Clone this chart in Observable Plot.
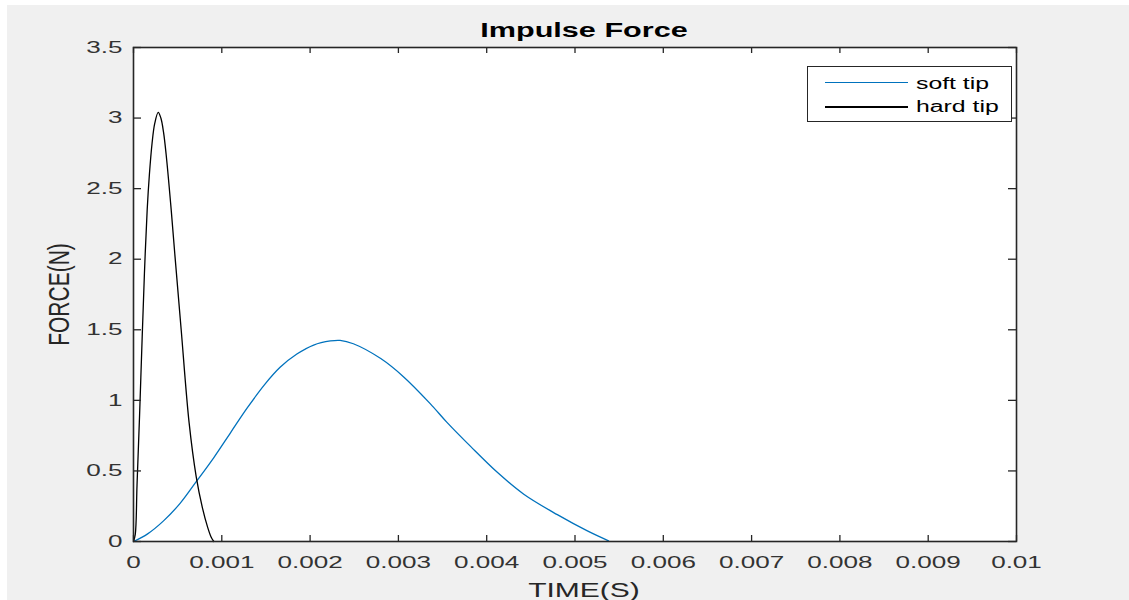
<!DOCTYPE html>
<html>
<head>
<meta charset="utf-8">
<script src="https://cdn.jsdelivr.net/npm/d3@7"></script>
<script src="https://cdn.jsdelivr.net/npm/@observablehq/plot@0.6"></script>
<style>
  html, body { margin: 0; padding: 0; background: #ffffff; }
  #fig { position: absolute; left: 7px; top: 5px; width: 1122px; height: 595px; background: #f0f0f0; overflow: hidden;
         font-family: "Liberation Sans", Arial, Helvetica, sans-serif; color: #262626; }
  #chart { position: absolute; left: 0; top: 0; }
  .lbl { position: absolute; white-space: nowrap; text-align: center; line-height: 1; transform-origin: 50% 50%; }
  #title { left: 377px; width: 400px; top: 15px; font-size: 20px; font-weight: bold; color: #000; transform: scaleX(1.53); }
  #xlabel { left: 427px; width: 300px; top: 575px; font-size: 20px; transform: scaleX(1.5); }
  #ylabel { left: -49px; width: 200px; top: 278.5px; height: 21px; font-size: 21px; transform: scaleX(1.4) rotate(-90deg); }
  #legend { position: absolute; left: 799.7px; top: 60.7px; width: 203px; height: 54px; background: #fff; border: 1px solid #262626; }
  .lgline { position: absolute; left: 17.3px; width: 82.7px; height: 1.3px; }
  .lgtext { position: absolute; left: 108.3px; font-size: 16px; line-height: 1; white-space: nowrap; transform-origin: 0 50%; transform: scaleX(1.55); color: #000; }
</style>
</head>
<body>
<div id="fig">
  <div id="chart"></div>
  <div class="lbl" id="title">Impulse Force</div>
  <div class="lbl" id="xlabel">TIME(S)</div>
  <div class="lbl" id="ylabel">FORCE(N)</div>
  <div id="legend"></div>
</div>
<script>
// ---- data ----
const seriesNames = ["soft tip", "hard tip"];
const seriesColors = ["#0072BD", "#000000"];

const softTime  = [0, 0.00016, 0.00034, 0.00053, 0.0007, 0.00091, 0.0011, 0.00129, 0.00148, 0.00166, 0.00185, 0.00204, 0.00223, 0.00234, 0.00249, 0.0028, 0.00306, 0.00336, 0.00355, 0.00382, 0.00412, 0.00442, 0.0048, 0.00514, 0.00538];
const softForce = [0, 0.054, 0.146, 0.272, 0.415, 0.595, 0.772, 0.948, 1.108, 1.234, 1.328, 1.392, 1.421, 1.425, 1.401, 1.296, 1.166, 0.977, 0.844, 0.672, 0.49, 0.335, 0.19, 0.075, 0.005];

const hardTime  = [0, 0.00002, 0.00004, 0.000068, 0.0000985, 0.000125, 0.000155, 0.00018, 0.00021, 0.00024, 0.00028, 0.00031, 0.00034, 0.00037, 0.00042, 0.00047, 0.00054, 0.00063, 0.00071, 0.00078, 0.00084, 0.00088, 0.00091];
const hardForce = [0, 0.05, 0.4, 0.88, 1.45, 1.92, 2.35, 2.6, 2.82, 2.96, 3.04, 3.0, 2.9, 2.74, 2.4, 2.02, 1.5, 0.84, 0.46, 0.24, 0.1, 0.03, 0];

const xTicks = [0, 0.001, 0.002, 0.003, 0.004, 0.005, 0.006, 0.007, 0.008, 0.009, 0.01];
const yTicks = [0, 0.5, 1, 1.5, 2, 2.5, 3, 3.5];
const xDomain = [0, 0.01];
const yDomain = [0, 3.5];

// ---- build tables ----
const soft = softTime.map((t, i) => ({t, f: softForce[i]}));
const hard = hardTime.map((t, i) => ({t, f: hardForce[i]}));

const W = 1122, H = 595, mL = 126, mR = 113, mT = 42, mB = 59;
const innerW = W - mL - mR, innerH = H - mT - mB;
const tickX = 6, tickY = 8;

const chart = Plot.plot({
  width: W, height: H,
  marginLeft: mL, marginRight: mR, marginTop: mT, marginBottom: mB,
  style: { background: "transparent", fontFamily: "'Liberation Sans', Arial, sans-serif", fontSize: "16.5px", color: "#333" },
  x: { domain: xDomain },
  y: { domain: yDomain },
  marks: [
    Plot.frame({ fill: "white" }),
    Plot.line(soft, { x: "t", y: "f", stroke: seriesColors[0], strokeWidth: 1.3, curve: "catmull-rom" }),
    Plot.line(hard, { x: "t", y: "f", stroke: seriesColors[1], strokeWidth: 1.3, curve: "catmull-rom" }),
    Plot.ruleX(xTicks, { x: d => d, insetTop: innerH - tickX, stroke: "#262626", strokeWidth: 1.3 }),
    Plot.ruleX(xTicks, { x: d => d, insetBottom: innerH - tickX, stroke: "#262626", strokeWidth: 1.3 }),
    Plot.ruleY(yTicks, { y: d => d, insetRight: innerW - tickY, stroke: "#262626", strokeWidth: 1.3 }),
    Plot.ruleY(yTicks, { y: d => d, insetLeft: innerW - tickY, stroke: "#262626", strokeWidth: 1.3 }),
    Plot.frame({ stroke: "#262626", strokeWidth: 1.6 }),
    Plot.axisX(xTicks, { tickSize: 0, tickPadding: 15, tickFormat: d => String(d), label: null }),
    Plot.axisY(yTicks, { tickSize: 0, tickPadding: 11, tickFormat: d => String(d), label: null })
  ]
});
document.getElementById("chart").appendChild(chart);

// stretch tick labels horizontally (the reference is horizontally stretched)
chart.querySelectorAll("text").forEach(el => {
  const t = el.getAttribute("transform");
  if (t) el.setAttribute("transform", t + " scale(1.58,1)");
});

// ---- legend ----
const legend = document.getElementById("legend");
const lineTops = [15.3, 39.6];
const textTops = [9.3, 32.3];
seriesNames.forEach((name, i) => {
  const ln = document.createElement("div");
  ln.className = "lgline";
  ln.style.top = lineTops[i] + "px";
  ln.style.background = seriesColors[i];
  legend.appendChild(ln);
  const tx = document.createElement("div");
  tx.className = "lgtext";
  tx.style.top = textTops[i] + "px";
  tx.textContent = name;
  legend.appendChild(tx);
});
</script>
</body>
</html>
